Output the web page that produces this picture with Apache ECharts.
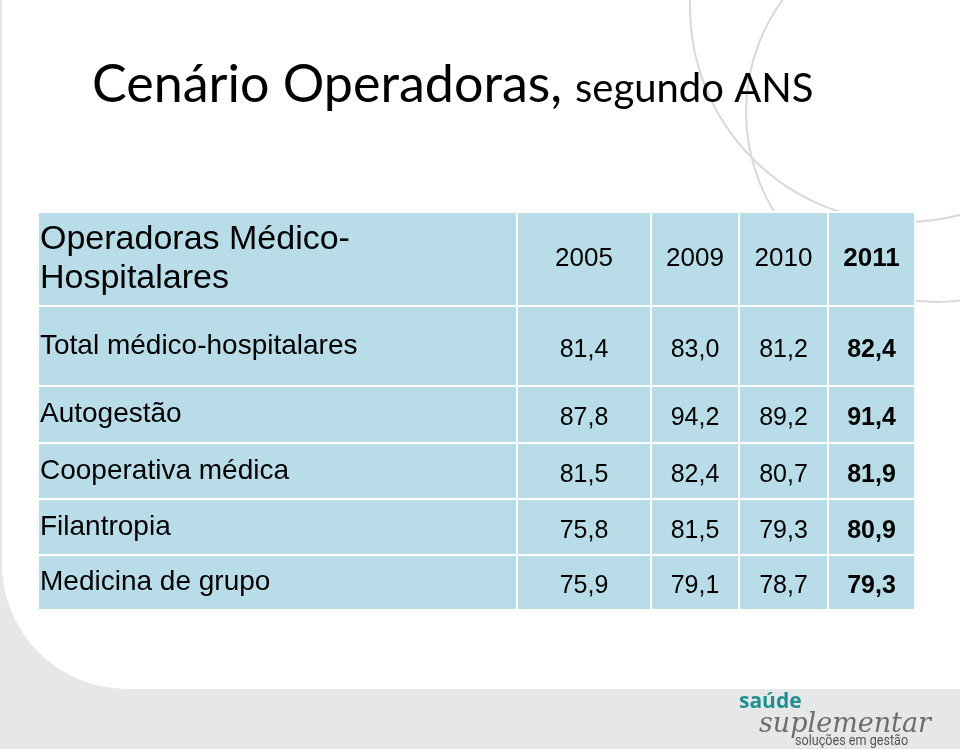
<!DOCTYPE html>
<html><head><meta charset="utf-8">
<script src="https://cdn.jsdelivr.net/npm/echarts@6/dist/echarts.min.js"></script>
<style>html,body{margin:0;padding:0;background:#fff}#c{width:960px;height:749px}</style>
</head><body><div id="c"></div>
<script>
// ---- data ----
const years = ['2005', '2009', '2010', '2011'];
const categories = ['Total médico-hospitalares', 'Autogestão', 'Cooperativa médica', 'Filantropia', 'Medicina de grupo'];
const v2005 = [81.4, 87.8, 81.5, 75.8, 75.9];
const v2009 = [83.0, 94.2, 82.4, 81.5, 79.1];
const v2010 = [81.2, 89.2, 80.7, 79.3, 78.7];
const v2011 = [82.4, 91.4, 81.9, 80.9, 79.3];
const cornerText = 'Operadoras Médico-\nHospitalares';
const titleMain = 'Cenário Operadoras,';
const titleSub = 'segundo ANS';
const logoTop = 'saúde';
const logoMid = 'suplementar';
const logoBottom = 'soluções em gestão';

// ---- layout / style ----
const CELL = '#b8dde8';
const FONT = '"Liberation Sans", Arial, sans-serif';
const colSizes = [134, 88, 89, 87];
const rowSizes = [80, 57, 56, 56, 55];
const cellStyle = { color: CELL, borderColor: '#ffffff', borderWidth: 2 };
const series = [v2005, v2009, v2010, v2011];
const fmt = v => v.toFixed(1).replace('.', ',');

const heatData = [];
series.forEach((arr, xi) => {
  arr.forEach((v, yi) => {
    const item = { value: [xi, yi, v] };
    if (xi === years.length - 1) item.label = { fontWeight: 'bold' };
    heatData.push(item);
  });
});

const chart = echarts.init(document.getElementById('c'));
chart.setOption({
  animation: false,
  graphic: [
    { type: 'rect', z: -100, silent: true, shape: { x: 0, y: 0, width: 960, height: 749 }, style: { fill: '#e6e7e9' } },
    { type: 'rect', z: -99, silent: true, shape: { x: 2, y: 0, width: 958, height: 689, r: [0, 0, 0, 125] }, style: { fill: '#ffffff' } },
    { type: 'circle', z: -98, silent: true, shape: { cx: 905, cy: 7, r: 215 }, style: { fill: null, stroke: '#d9d9d9', lineWidth: 2 } },
    { type: 'circle', z: -98, silent: true, shape: { cx: 936, cy: 112, r: 190 }, style: { fill: null, stroke: '#d9d9d9', lineWidth: 2 } },
    { type: 'text', z: 100, x: 92, y: 85, style: { text: titleMain, font: '52px Lato', fill: '#000', verticalAlign: 'middle' } },
    { type: 'text', z: 100, x: 575, y: 89, style: { text: titleSub, font: '40px Lato', fill: '#000', verticalAlign: 'middle' } },
    { type: 'text', z: 100, x: 739, y: 702, style: { text: logoTop, font: 'bold 21px "Open Sans"', fill: '#1f8f8f', verticalAlign: 'middle' } },
    { type: 'text', z: 100, x: 759, y: 725, style: { text: logoMid, font: 'italic 27px "DejaVu Serif"', fill: '#6d6d6d', verticalAlign: 'middle' } },
    { type: 'text', z: 100, x: 795, y: 741, scaleX: 0.84, style: { text: logoBottom, font: '15px Roboto', fill: '#555555', verticalAlign: 'middle' } }
  ],
  matrix: {
    left: 38, top: 212, width: 877, height: 398,
    backgroundStyle: { color: 'transparent', borderWidth: 0 },
    x: {
      data: years.map((y, i) => i === years.length - 1
        ? { value: y, size: colSizes[i], label: { fontWeight: 'bold' } }
        : { value: y, size: colSizes[i] }),
      levelSize: 94,
      itemStyle: cellStyle,
      label: { fontFamily: FONT, fontSize: 26, color: '#000' },
      dividerLineStyle: { color: '#ffffff', width: 2 }
    },
    y: {
      data: categories.map((c, i) => ({ value: c, size: rowSizes[i] })),
      levelSize: 479,
      itemStyle: cellStyle,
      label: { fontFamily: FONT, fontSize: 28, color: '#000', position: 'insideLeft', padding: [0, 0, 0, 2] },
      dividerLineStyle: { color: '#ffffff', width: 2 }
    },
    corner: {
      itemStyle: cellStyle,
      label: { fontFamily: FONT, fontSize: 34, color: '#000', position: 'insideLeft', lineHeight: 39, padding: [0, 0, 0, 2] },
      data: [{ coord: [-1, -1], value: cornerText }]
    },
    body: {
      itemStyle: cellStyle
    }
  },
  series: [{
    type: 'heatmap',
    coordinateSystem: 'matrix',
    data: heatData,
    itemStyle: { color: CELL, borderColor: '#ffffff', borderWidth: 2 },
    label: {
      show: true, fontFamily: FONT, fontSize: 25, color: '#000', offset: [0, 4],
      formatter: p => fmt(p.value[2])
    },
    emphasis: { disabled: true }
  }]
});
</script></body></html>
